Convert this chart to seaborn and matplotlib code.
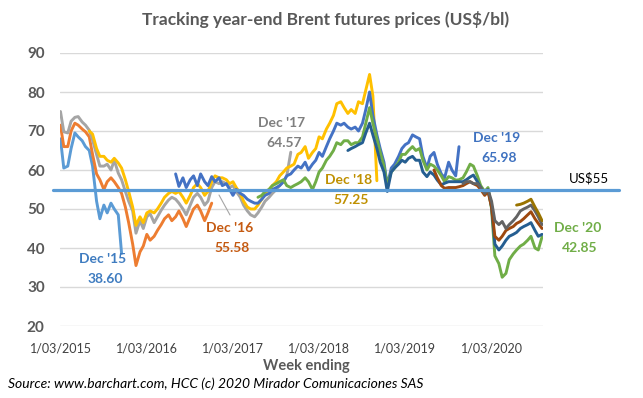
import numpy as np
import pandas as pd
import matplotlib.pyplot as plt
import seaborn as sns
from matplotlib.lines import Line2D

# Contracts, first week shown (semi-monthly sampling) and prices in US$/bl
contracts = ["Dec '15", "Dec '16", "Dec '17", "Dec '18", "Dec '19",
             "Dec '20", "Dec '21", "Dec '22", "Dec '23", "Dec '24"]
starts = ['2015-03-01', '2015-03-01', '2015-03-01', '2015-07-01', '2016-07-01',
          '2017-06-15', '2018-07-01', '2019-07-01', '2019-11-01', '2020-06-15']
line_colors = ['#5B9BD5', '#ED7D31', '#A5A5A5', '#FFC000', '#4472C4',
               '#70AD47', '#255E91', '#9E480E', '#636363', '#997300']

dec15 = [68, 60.5, 61, 65.5, 69.5, 68.5, 67.5, 66, 65, 61,
         52, 47.5, 51, 49, 51.5, 50, 48.5, 38.6]
dec16 = [71.5, 66, 66, 70, 72, 71.5, 70.5, 69.8, 68.5, 64,
         59, 57.5, 55, 57, 58, 57, 55.5, 54, 50.5, 46.5,
         41, 35.5, 39, 40.5, 43.5, 42, 43, 44.5, 46, 47.5,
         48.5, 47, 48, 49.5, 47.5, 45.5, 48, 50, 51, 49.5,
         47, 49, 51.5]
dec17 = [75, 69.8, 69.5, 72.5, 73.5, 73.7, 72.3, 71.5, 70.2, 67.7,
         64, 61, 61, 61.5, 60, 62.5, 59.2, 57.5, 54.5, 52,
         49.5, 43.8, 47, 45, 48, 48.8, 46.5, 48, 49.7, 51,
         52.3, 53, 52.5, 51.5, 50, 48.5, 51, 53, 54, 53,
         51, 52, 55.5, 57, 56.5, 57, 56.5, 55.5, 56, 54.5,
         53, 51, 49.5, 48.5, 48, 49, 50.5, 52, 53, 54,
         55, 56, 57, 58.5, 64.57]
dec18 = [70, 69.2,
         65.5, 63.5, 63.5, 62.5, 62, 63, 61.8, 60.5, 57.5, 54.5,
         50.5, 45.8, 48, 46.5, 49, 49.5, 49, 50, 51.5, 53,
         54, 54.5, 54, 54.5, 53, 51.5, 53.5, 55.5, 56.5, 55.5,
         53.5, 54.5, 57, 58.5, 58, 58, 57.5, 56.5, 57, 55.5,
         54, 52, 50.5, 50, 50, 51, 52.5, 54, 55, 56,
         57, 58.5, 59.5, 60.5, 61, 61.5, 64, 64.5, 66, 63,
         64.5, 65.5, 68.5, 68, 70.5, 72, 74, 77, 77.5, 76,
         74.5, 75.5, 74.5, 77.5, 77, 80.5, 84.5, 79, 57.25]
dec19 = [59, 55.8, 58, 55.5, 57.5, 58.5, 56, 59, 57, 56,
         58.3, 57, 58, 56, 56.5, 55, 53.5, 55, 54, 53.5,
         52.5, 52, 51.5, 51.5, 52.5, 53.5, 54, 55, 55.5, 56,
         57, 58.5, 59, 60, 61, 60.5, 62, 60, 61.5, 62.5,
         64.5, 63.5, 66, 68, 70, 72, 71.5, 72, 71, 70.5,
         71, 70, 72, 75.5, 80, 74, 69, 65.5, 62, 56,
         60.5, 61.5, 63.5, 65.5, 66.5, 67, 69, 68.5, 68, 63.5,
         60.5, 63.5, 64.5, 61.5, 59, 58, 62, 60, 58.5, 65.98]
dec20 = [53, 53.5, 54.5, 55, 56,
         56.5, 57, 57.5, 56, 55.5, 56, 56.5, 57, 58, 57,
         55, 57, 59.5, 60.5, 62.5, 63.5, 65, 67, 66.5, 67.5,
         67.5, 66.5, 67, 67, 68.5, 72, 76, 72, 68, 64.5,
         61, 56, 59.5, 60.5, 62, 64, 64, 65, 66, 65,
         65.5, 62.5, 60, 61.5, 61, 60, 58.5, 57, 58.3, 58,
         57.4, 57.5, 58, 59.5, 61.5, 61, 58.5, 56, 54.5, 55.5,
         50, 38, 36, 32.5, 33.5, 37, 38.5, 39.5, 40.5, 41,
         42, 43, 40, 39.5, 42.85]
dec21 = [65, 65.5, 66, 66.5, 67, 69.5, 72, 69, 65.5, 62,
         59.5, 54.5, 59.5, 60.5, 61.5, 62.5, 62, 63, 63.5, 62.5,
         62.5, 59.5, 58.3, 59.5, 58.7, 57.4, 56.2, 56.6, 57, 57,
         57, 57, 57, 57.5, 58.2, 58.7, 57, 55.5, 54, 55,
         50.5, 41, 39.5, 40.5, 42, 43, 43.5, 44, 45, 45.5,
         46, 46.5, 44.5, 43, 43.5]
dec22 = [60, 58, 56, 55.3, 55.5, 55.5, 55.5, 55.7, 56, 56.5,
         57, 56.5, 56, 55, 53.5, 54.5, 50.5, 43, 42, 43,
         44.5, 45, 45.5, 46.3, 46.8, 47.5, 48.5, 49.3, 47.5, 46.3,
         45]
dec23 = [56.5, 57, 57, 56.5, 56.5, 55.5, 54, 55,
         52, 47, 46, 46.8, 45, 46, 47, 48, 49.5, 50,
         50.5, 51, 49.5, 48, 46]
dec24 = [51, 51.2, 51.5, 52, 52.5, 50.5, 49, 47]
values = [dec15, dec16, dec17, dec18, dec19, dec20, dec21, dec22, dec23, dec24]

tick_dates = ['2015-03-01', '2016-03-01', '2017-03-01', '2018-03-01', '2019-03-01', '2020-03-01']
tick_labels = ['1/03/2015', '1/03/2016', '1/03/2017', '1/03/2018', '1/03/2019', '1/03/2020']

# end-of-line labels: contract name, last value, colour
end_labels = [("Dec '15", '38.60', '#3F7CC0'), ("Dec '16", '55.58', '#C55A11'),
              ("Dec '17", '64.57', '#7F7F7F'), ("Dec '18", '57.25', '#BF9000'),
              ("Dec '19", '65.98', '#3F72C0'), ("Dec '20", '42.85', '#70AD47')]
label_pos = [(103, 259), (230, 228), (282, 123), (349, 180), (497, 138), (578, 228)]
ref_level = 55

# long table for seaborn
frames = []
for name, start, vals in zip(contracts, starts, values):
    frames.append(pd.DataFrame({'week': pd.date_range(start, periods=len(vals), freq='SMS'),
                                'price': vals, 'contract': name}))
df = pd.concat(frames, ignore_index=True)

sns.set_style('white')
plt.rcParams['font.family'] = ['Lato', 'DejaVu Sans']

W, H = 643, 398
fig = plt.figure(figsize=(W / 100, H / 100), dpi=100)
ax = fig.add_axes([60 / W, 1 - 326 / H, 483 / W, 273 / H])

def fx(x, y):
    return x / W, 1 - y / H

sns.lineplot(data=df, x='week', y='price', hue='contract', hue_order=contracts,
             palette=dict(zip(contracts, line_colors)), linewidth=2.1,
             estimator=None, legend=False, ax=ax)

# US$55 reference line, running past the plot area
ax.axhline(ref_level, xmin=-0.0145, xmax=1.157, color='#5B9BD5', lw=2.3, clip_on=False, zorder=5)

ax.set_ylim(20, 90)
ax.set_yticks(range(20, 91, 10))
ax.set_xlim(pd.Timestamp('2015-02-27'), pd.Timestamp('2020-10-05'))
ax.set_xticks(pd.to_datetime(tick_dates))
ax.set_xticklabels(tick_labels)
ax.yaxis.grid(True, color='#D9D9D9', lw=1)
ax.xaxis.grid(False)
ax.set_axisbelow(True)
for s in ax.spines.values():
    s.set_visible(False)
ax.tick_params(axis='both', length=0)
ax.tick_params(axis='y', pad=11, labelsize=11, labelcolor='#595959')
ax.tick_params(axis='x', pad=12, labelsize=9, labelcolor='#404040')
for t in ax.get_yticklabels():
    t.set_fontweight('bold')
ax.set_xlabel('')
ax.set_ylabel('')

fig.text(*fx(326, 19), 'Tracking year-end Brent futures prices (US$/bl)', ha='center', va='center',
         fontsize=12.5, fontweight='bold', color='#595959')
fig.text(*fx(306, 366), 'Week ending', ha='center', va='center',
         fontsize=10.5, fontweight='bold', color='#595959')
fig.text(*fx(8, 384), 'Source: www.barchart.com, HCC (c) 2020 Mirador Comunicaciones SAS',
         ha='left', va='center', fontsize=10, style='italic', color='black')

for (name, val, col), (x, y) in zip(end_labels, label_pos):
    fig.text(*fx(x, y), name, ha='center', va='center', fontsize=10, fontweight='bold', color=col)
    fig.text(*fx(x + 2, y + 20), val, ha='center', va='center', fontsize=10, fontweight='bold', color=col)

fig.text(*fx(589, 178), 'US$55', ha='center', va='center', fontsize=9.5, color='black')

# leader line from the Dec '16 label
fig.add_artist(Line2D([219 / W, 230 / W], [1 - 195 / H, 1 - 215 / H], color='#A6A6A6', lw=0.8))

fig.savefig('out.png', dpi=100)
